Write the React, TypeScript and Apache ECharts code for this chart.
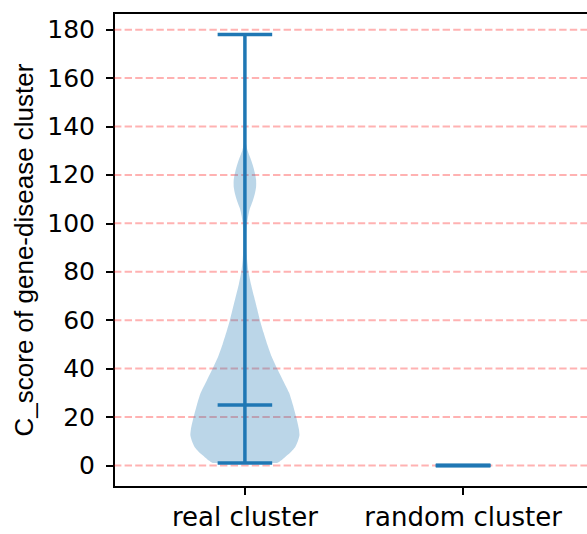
import React, { useEffect, useRef } from "react";
import * as echarts from "echarts";

const categories = ["real cluster", "random cluster"];
const statMin = [1, 0];
const statMid = [25, 0];
const statMax = [178, 0];
const yTicks = [0, 20, 40, 60, 80, 100, 120, 140, 160, 180];

// KDE profile of the "real cluster" violin: value and relative half-width (1 = widest)
const densityValues = [1, 2, 3.5, 5, 7.5, 10, 12.5, 15, 20, 25, 30, 35, 40, 45, 50, 55, 60, 65, 70, 75, 80, 85, 90, 95, 100, 103, 106, 109, 112, 115, 118, 121, 124, 127, 130, 133, 138, 145, 160, 178];
const densityWidths = [0.59, 0.66, 0.74, 0.82, 0.92, 0.97, 1.0, 0.99, 0.94, 0.88, 0.81, 0.7, 0.59, 0.49, 0.41, 0.34, 0.275, 0.22, 0.165, 0.11, 0.065, 0.04, 0.03, 0.03, 0.04, 0.06, 0.09, 0.14, 0.18, 0.205, 0.205, 0.18, 0.145, 0.1, 0.05, 0.02, 0.006, 0.002, 0.001, 0.001];

const BLUE = "#1f77b4";

export default function App() {
  const ref = useRef<HTMLDivElement>(null);
  useEffect(() => {
    if (!ref.current) return;
    const chart = echarts.init(ref.current, null, { renderer: "svg" });
    const option: any = {
      animation: false,
      grid: {
        left: 114,
        width: 480,
        top: 13,
        bottom: 47,
        outerBoundsMode: "none",
        containLabel: false,
        show: true,
        borderColor: "#000",
        borderWidth: 2,
        backgroundColor: "transparent",
      },
      xAxis: {
        type: "value",
        min: 0.4,
        max: 2.6,
        axisLine: { show: true, onZero: false, lineStyle: { color: "#000", width: 2 } },
        axisTick: { show: true, customValues: [1, 2], length: 8, lineStyle: { color: "#000", width: 2 } },
        axisLabel: {
          customValues: [1, 2],
          formatter: (v: number) => categories[Math.round(v) - 1] ?? "",
          fontSize: 26,
          fontFamily: "DejaVu Sans",
          color: "#000",
          margin: 17,
        },
        splitLine: { show: false },
      },
      yAxis: {
        type: "value",
        min: -8.9,
        max: 186.9,
        name: "C_score of gene-disease cluster",
        nameLocation: "middle",
        nameGap: 77,
        nameMoveOverlap: false,
        nameTextStyle: { fontSize: 26, fontFamily: "Liberation Sans", color: "#000" },
        axisLine: { show: true, onZero: false, lineStyle: { color: "#000", width: 2 } },
        axisTick: { show: true, customValues: yTicks, length: 8, lineStyle: { color: "#000", width: 2 } },
        axisLabel: { customValues: yTicks, fontSize: 25, fontFamily: "DejaVu Sans", color: "#000", margin: 19 },
        splitLine: { show: false },
      },
      series: [
        {
          type: "custom",
          z: 1,
          data: yTicks.map((v) => [v]),
          renderItem: (params: any, api: any) => {
            const v = api.value(0);
            const a = api.coord([0.4, v]);
            const b = api.coord([2.6, v]);
            return {
              type: "line",
              shape: { x1: a[0], y1: a[1], x2: b[0], y2: b[1] },
              style: { stroke: "rgba(255,0,0,0.3)", lineWidth: 2, lineDash: [7.4, 3.2] },
            };
          },
        },
        {
          type: "custom",
          z: 2,
          data: [[1]],
          renderItem: (params: any, api: any) => {
            const x = api.value(0);
            const pts: number[][] = [];
            for (let i = 0; i < densityValues.length; i++) {
              pts.push(api.coord([x + 0.25 * densityWidths[i], densityValues[i]]));
            }
            for (let i = densityValues.length - 1; i >= 0; i--) {
              pts.push(api.coord([x - 0.25 * densityWidths[i], densityValues[i]]));
            }
            return {
              type: "polygon",
              shape: { points: pts, smooth: 0.2 },
              style: { fill: "rgba(31,119,180,0.3)", stroke: "none" },
            };
          },
        },
        {
          type: "custom",
          z: 3,
          data: categories.map((c, i) => [i + 1, statMin[i], statMid[i], statMax[i]]),
          renderItem: (params: any, api: any) => {
            const x = api.value(0);
            const lo = api.value(1);
            const mid = api.value(2);
            const hi = api.value(3);
            const seg = (x1: number, y1: number, x2: number, y2: number) => {
              const a = api.coord([x1, y1]);
              const b = api.coord([x2, y2]);
              return {
                type: "line",
                shape: { x1: a[0], y1: a[1], x2: b[0], y2: b[1] },
                style: { stroke: BLUE, lineWidth: 3.5, lineCap: "butt" },
              };
            };
            return {
              type: "group",
              children: [
                seg(x, lo, x, hi),
                seg(x - 0.125, lo, x + 0.125, lo),
                seg(x - 0.125, mid, x + 0.125, mid),
                seg(x - 0.125, hi, x + 0.125, hi),
              ],
            };
          },
        },
      ],
    };
    chart.setOption(option);
    return () => chart.dispose();
  }, []);
  return <div ref={ref} style={{ position: "fixed", left: 0, top: 0, width: 587, height: 534, background: "#fff" }} />;
}
